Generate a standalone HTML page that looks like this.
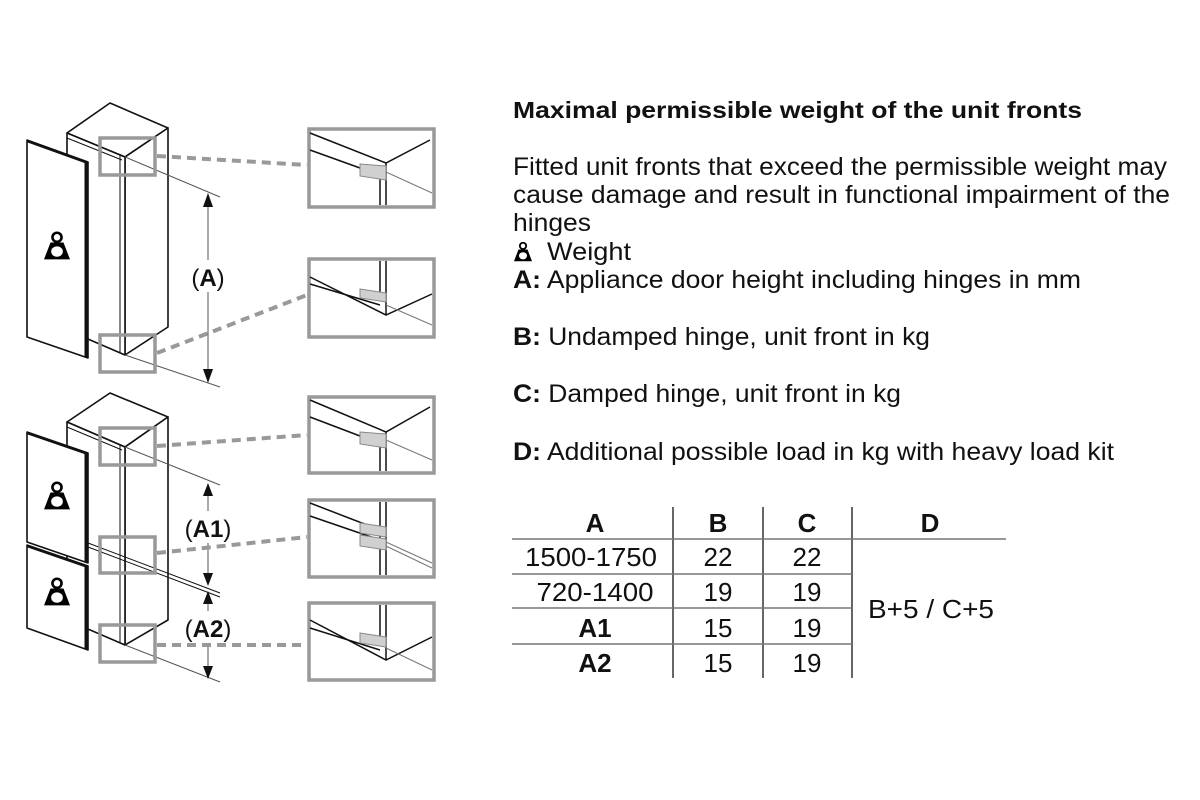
<!DOCTYPE html>
<html><head><meta charset="utf-8"><style>
html,body{margin:0;padding:0;background:#fff;}
svg{display:block;}
text{font-family:"Liberation Sans",Arial,sans-serif;fill:#111;}
</style></head><body>
<svg width="1200" height="800" viewBox="0 0 1200 800" xmlns="http://www.w3.org/2000/svg">
<defs>
<g id="wt">
<circle cx="0" cy="-9" r="3.5" fill="none" stroke="#000" stroke-width="2"/>
<path d="M-5,-5 L5,-5 L10,8 L-10,8 Z" fill="#000"/>
<ellipse cx="0" cy="2" rx="4.5" ry="4" fill="#fff"/>
</g>
</defs>

<!-- ===== TOP UNIT ===== -->
<g stroke="#111" stroke-width="1.6" fill="#fff" stroke-linejoin="round">
<path d="M67,133 L110,103 L168,128 L125,157 Z"/>
<path d="M125,157 L168,128 L168,327 L125,355 Z"/>
<path d="M67,133 L125,157 L125,355 L67,330 Z"/>
<line x1="120" y1="155" x2="120" y2="352" stroke-width="1"/>
<line x1="67" y1="138" x2="122" y2="160" stroke-width="1"/>
<path d="M27,140 L88,162 L88,358 L27,337 Z"/>
<line x1="86" y1="162" x2="86" y2="357" stroke-width="3"/>
<line x1="27" y1="141" x2="88" y2="163" stroke-width="2.5"/>
</g>
<g transform="translate(57,249) scale(1.3)"><use href="#wt"/></g>
<g stroke="#555" stroke-width="1">
<line x1="125" y1="157" x2="220" y2="197"/>
<line x1="125" y1="355" x2="220" y2="387"/>
<line x1="208" y1="196" x2="208" y2="380"/>
</g>
<path d="M208,193 L203,207 L213,207 Z M208,383 L203,369 L213,369 Z" fill="#111"/>
<rect x="186" y="260" width="44" height="32" fill="#fff"/>
<text x="208" y="286" font-size="24" text-anchor="middle">(<tspan font-weight="bold">A</tspan>)</text>
<g fill="none" stroke="#999" stroke-width="3.5">
<rect x="100" y="138" width="55" height="37"/>
<rect x="100" y="335" width="55" height="37"/>
<rect x="309" y="129" width="125" height="78"/>
<rect x="309" y="259" width="125" height="78"/>
</g>
<g stroke="#999" stroke-width="4" stroke-dasharray="9,6">
<line x1="157" y1="156" x2="307" y2="165"/>
<line x1="157" y1="353" x2="307" y2="295"/>
</g>
<g stroke="#111" stroke-width="1.5" fill="none">
<path d="M310,133 L386,163 L430,140"/>
<path d="M310,150 L360,168"/>
<line x1="380" y1="170" x2="380" y2="205"/>
<line x1="386" y1="163" x2="386" y2="205"/>
<line x1="386" y1="172" x2="432" y2="193" stroke="#777" stroke-width="1"/>
</g>
<path d="M360,164 L386,166 L386,180 L360,176 Z" fill="#d0d0d0" stroke="#888"/>
<g stroke="#111" stroke-width="1.5" fill="none">
<line x1="380" y1="261" x2="380" y2="294"/>
<line x1="386" y1="261" x2="386" y2="315"/>
<path d="M310,277 L386,315 L432,294"/>
<path d="M310,284 L380,305"/>
<line x1="386" y1="305" x2="432" y2="325" stroke="#777" stroke-width="1"/>
</g>
<path d="M360,289 L386,293 L386,302 L360,298 Z" fill="#d0d0d0" stroke="#888"/>

<!-- ===== BOTTOM UNIT ===== -->
<g stroke="#111" stroke-width="1.6" fill="#fff" stroke-linejoin="round">
<path d="M67,422 L110,393 L168,417 L125,447 Z"/>
<path d="M125,447 L168,417 L168,620 L125,645 Z"/>
<path d="M67,422 L125,447 L125,645 L67,620 Z"/>
<line x1="120" y1="445" x2="120" y2="642" stroke-width="1"/>
<line x1="67" y1="427" x2="122" y2="450" stroke-width="1"/>
<line x1="88" y1="543" x2="220" y2="593" stroke-width="1"/>
<line x1="88" y1="547" x2="220" y2="597" stroke-width="1"/>
<path d="M27,432 L88,453 L88,563 L27,542 Z"/>
<line x1="86" y1="453" x2="86" y2="562" stroke-width="3"/>
<line x1="27" y1="433" x2="88" y2="454" stroke-width="2.5"/>
<path d="M27,545 L88,566 L88,650 L27,628 Z"/>
<line x1="86" y1="566" x2="86" y2="649" stroke-width="3"/>
<line x1="27" y1="546" x2="88" y2="567" stroke-width="2.5"/>
</g>
<g transform="translate(57,499) scale(1.3)"><use href="#wt"/></g>
<g transform="translate(57,595) scale(1.3)"><use href="#wt"/></g>
<g stroke="#555" stroke-width="1">
<line x1="125" y1="447" x2="220" y2="485"/>
<line x1="125" y1="645" x2="220" y2="682"/>
<line x1="208" y1="485" x2="208" y2="583"/>
<line x1="208" y1="593" x2="208" y2="677"/>
</g>
<path d="M208,483 L203,496 L213,496 Z M208,586 L203,573 L213,573 Z M208,591 L203,604 L213,604 Z M208,679 L203,666 L213,666 Z" fill="#111"/>
<rect x="180" y="511" width="56" height="32" fill="#fff"/>
<rect x="180" y="611" width="56" height="32" fill="#fff"/>
<text x="208" y="537" font-size="24" text-anchor="middle">(<tspan font-weight="bold">A1</tspan>)</text>
<text x="208" y="637" font-size="24" text-anchor="middle">(<tspan font-weight="bold">A2</tspan>)</text>
<g fill="none" stroke="#999" stroke-width="3.5">
<rect x="100" y="428" width="55" height="37"/>
<rect x="100" y="537" width="55" height="36"/>
<rect x="100" y="625" width="55" height="37"/>
<rect x="309" y="397" width="125" height="76"/>
<rect x="309" y="500" width="125" height="77"/>
<rect x="309" y="603" width="125" height="77"/>
</g>
<g stroke="#999" stroke-width="4" stroke-dasharray="9,6">
<line x1="157" y1="446" x2="307" y2="435"/>
<line x1="157" y1="553" x2="307" y2="537"/>
<line x1="157" y1="645" x2="307" y2="645"/>
</g>
<g stroke="#111" stroke-width="1.5" fill="none">
<path d="M310,400 L386,432 L430,407"/>
<path d="M310,417 L360,436"/>
<line x1="380" y1="440" x2="380" y2="471"/>
<line x1="386" y1="432" x2="386" y2="471"/>
<line x1="386" y1="440" x2="432" y2="460" stroke="#777" stroke-width="1"/>
</g>
<path d="M360,432 L386,434 L386,448 L360,444 Z" fill="#d0d0d0" stroke="#888"/>
<g stroke="#111" stroke-width="1.5" fill="none">
<line x1="380" y1="502" x2="380" y2="575"/>
<line x1="386" y1="502" x2="386" y2="575"/>
<path d="M310,503 L380,530"/>
<path d="M310,516 L380,540"/>
<line x1="386" y1="542" x2="432" y2="563" stroke="#777" stroke-width="1"/>
<line x1="386" y1="546" x2="432" y2="568" stroke="#777" stroke-width="1"/>
</g>
<path d="M360,523 L386,527 L386,537 L360,533 Z M360,535 L386,539 L386,550 L360,546 Z" fill="#d0d0d0" stroke="#888"/>
<g stroke="#111" stroke-width="1.5" fill="none">
<line x1="380" y1="605" x2="380" y2="638"/>
<line x1="386" y1="605" x2="386" y2="660"/>
<path d="M310,620 L386,660 L432,637"/>
<path d="M310,628 L380,650"/>
<line x1="386" y1="648" x2="432" y2="670" stroke="#777" stroke-width="1"/>
</g>
<path d="M360,633 L386,637 L386,647 L360,643 Z" fill="#d0d0d0" stroke="#888"/>

<!-- ===== TEXT ===== -->
<text x="513" y="118" font-size="23" font-weight="bold" textLength="569" lengthAdjust="spacingAndGlyphs">Maximal permissible weight of the unit fronts</text>
<g font-size="25">
<text x="513" y="175" textLength="654" lengthAdjust="spacingAndGlyphs">Fitted unit fronts that exceed the permissible weight may</text>
<text x="513" y="203" textLength="657" lengthAdjust="spacingAndGlyphs">cause damage and result in functional impairment of the</text>
<text x="513" y="231" textLength="78" lengthAdjust="spacingAndGlyphs">hinges</text>
<text x="547" y="260" textLength="84" lengthAdjust="spacingAndGlyphs">Weight</text>
<text x="513" y="288" textLength="568" lengthAdjust="spacingAndGlyphs"><tspan font-weight="bold">A:</tspan> Appliance door height including hinges in mm</text>
<text x="513" y="345" textLength="417" lengthAdjust="spacingAndGlyphs"><tspan font-weight="bold">B:</tspan> Undamped hinge, unit front in kg</text>
<text x="513" y="402" textLength="388" lengthAdjust="spacingAndGlyphs"><tspan font-weight="bold">C:</tspan> Damped hinge, unit front in kg</text>
<text x="513" y="460" textLength="601" lengthAdjust="spacingAndGlyphs"><tspan font-weight="bold">D:</tspan> Additional possible load in kg with heavy load kit</text>
</g>
<g transform="translate(523,254) scale(0.9)"><use href="#wt"/></g>

<!-- ===== TABLE ===== -->
<g stroke="#333" stroke-width="1.5">
<line x1="673" y1="507" x2="673" y2="678"/>
<line x1="763" y1="507" x2="763" y2="678"/>
<line x1="852" y1="507" x2="852" y2="678"/>
</g>
<g stroke="#777" stroke-width="1.5">
<line x1="512" y1="539" x2="1006" y2="539"/>
<line x1="512" y1="574" x2="852" y2="574"/>
<line x1="512" y1="608" x2="852" y2="608"/>
<line x1="512" y1="644" x2="852" y2="644"/>
</g>
<g font-size="26" text-anchor="middle">
<text x="595" y="532" font-weight="bold">A</text>
<text x="718" y="532" font-weight="bold">B</text>
<text x="807" y="532" font-weight="bold">C</text>
<text x="930" y="532" font-weight="bold">D</text>
<text x="591" y="566" textLength="132" lengthAdjust="spacingAndGlyphs">1500-1750</text><text x="718" y="566">22</text><text x="807" y="566">22</text>
<text x="595" y="601" textLength="117" lengthAdjust="spacingAndGlyphs">720-1400</text><text x="718" y="601">19</text><text x="807" y="601">19</text>
<text x="595" y="637" font-weight="bold">A1</text><text x="718" y="637">15</text><text x="807" y="637">19</text>
<text x="595" y="672" font-weight="bold">A2</text><text x="718" y="672">15</text><text x="807" y="672">19</text>
<text x="931" y="618" textLength="126" lengthAdjust="spacingAndGlyphs">B+5 / C+5</text>
</g>
</svg>
</body></html>
